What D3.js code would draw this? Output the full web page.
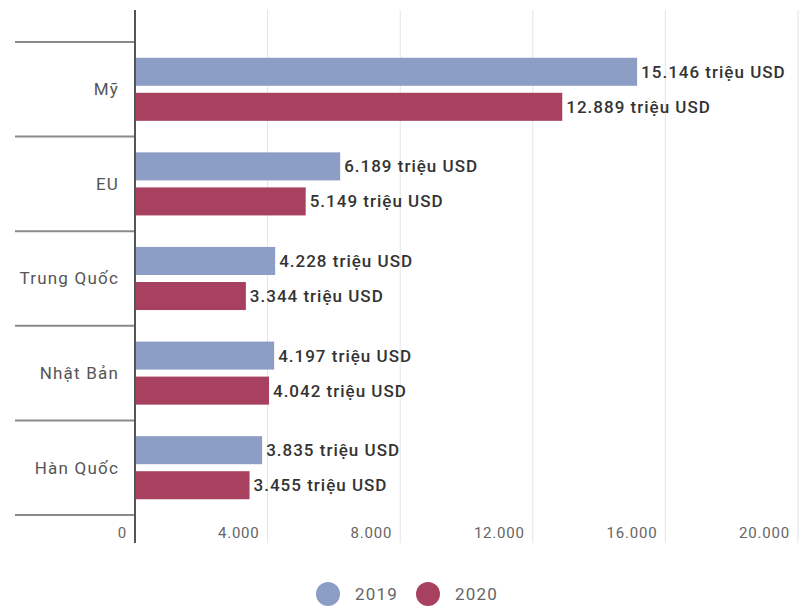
<!DOCTYPE html>
<html>
<head>
<meta charset="utf-8">
<script src="https://cdn.jsdelivr.net/npm/d3@7"></script>
<style>
  body { margin: 0; background: #fff; font-family: Roboto, "Noto Sans", sans-serif; }
</style>
</head>
<body>
<div id="chart"></div>
<script>
// Données
const categories = ["Mỹ", "EU", "Trung Quốc", "Nhật Bản", "Hàn Quốc"];
const series = ["2019", "2020"];
const values2019 = [15146, 6189, 4228, 4197, 3835];
const values2020 = [12889, 5149, 3344, 4042, 3455];
const tickValues = [0, 4000, 8000, 12000, 16000, 20000];
const colors = ["#8c9dc6", "#a7415f"];

const width = 801, height = 607;
const margin = { left: 135, right: 4, top: 42, bottom: 92 };

const vn = d3.formatLocale({ decimal: ",", thousands: ".", grouping: [3], currency: ["", ""] });
const fmt = vn.format(",d");

const svg = d3.select("#chart").append("svg")
    .attr("width", width)
    .attr("height", height);

const x = d3.scaleLinear()
    .domain([0, 20000])
    .range([margin.left, 798]);

const y = d3.scaleBand()
    .domain(categories)
    .range([margin.top, height - margin.bottom]);

const yInner = d3.scaleBand()
    .domain(series)
    .range([0, y.bandwidth()])
    .paddingInner(0.2)
    .paddingOuter(0.45);

// Grille verticale
svg.append("g")
    .selectAll("line")
    .data(tickValues.filter(d => d > 0))
    .join("line")
    .attr("x1", d => x(d)).attr("x2", d => x(d))
    .attr("y1", 10).attr("y2", 543)
    .attr("stroke", "#e4e4e4")
    .attr("stroke-width", 1);

// Séparateurs de catégories
const seps = y.domain().map(d => y(d)).concat([y.range()[1]]);
svg.append("g")
    .selectAll("line")
    .data(seps)
    .join("line")
    .attr("x1", 15).attr("x2", margin.left)
    .attr("y1", d => d).attr("y2", d => d)
    .attr("stroke", "#8a8a8a")
    .attr("stroke-width", 2);

// Barres
const data = [];
categories.forEach((c, i) => {
    data.push({ cat: c, serie: "2019", value: values2019[i], color: colors[0] });
    data.push({ cat: c, serie: "2020", value: values2020[i], color: colors[1] });
});

svg.append("g")
    .selectAll("rect")
    .data(data)
    .join("rect")
    .attr("x", x(0))
    .attr("y", d => y(d.cat) + yInner(d.serie))
    .attr("width", d => x(d.value) - x(0))
    .attr("height", yInner.bandwidth())
    .attr("fill", d => d.color);

// Étiquettes de valeur
svg.append("g")
    .selectAll("text")
    .data(data)
    .join("text")
    .attr("x", d => x(d.value) + 4)
    .attr("y", d => y(d.cat) + yInner(d.serie) + yInner.bandwidth() / 2)
    .attr("dy", "0.35em")
    .attr("font-size", 17)
    .attr("font-weight", 500)
    .attr("letter-spacing", 1)
    .attr("fill", "#333")
    .text(d => `${fmt(d.value)} triệu USD`);

// Libellés des catégories
svg.append("g")
    .selectAll("text")
    .data(categories)
    .join("text")
    .attr("x", 119)
    .attr("y", d => y(d) + y.bandwidth() / 2)
    .attr("dy", "0.35em")
    .attr("text-anchor", "end")
    .attr("font-size", 17)
    .attr("letter-spacing", 1.2)
    .attr("fill", "#555")
    .text(d => d);

// Axe
svg.append("line")
    .attr("x1", margin.left).attr("x2", margin.left)
    .attr("y1", 10).attr("y2", 543)
    .attr("stroke", "#555")
    .attr("stroke-width", 2);

// Graduations
svg.append("g")
    .selectAll("text")
    .data(tickValues)
    .join("text")
    .attr("x", d => x(d) - 8)
    .attr("y", 533)
    .attr("dy", "0.35em")
    .attr("text-anchor", "end")
    .attr("font-size", 15)
    .attr("letter-spacing", 0.8)
    .attr("fill", "#666")
    .text(d => fmt(d));

// Légende
const legend = svg.append("g").attr("transform", "translate(328,594)");
series.forEach((s, i) => {
    const g = legend.append("g").attr("transform", `translate(${i * 100},0)`);
    g.append("circle").attr("r", 12).attr("fill", colors[i]);
    g.append("text")
        .attr("x", 27)
        .attr("dy", "0.35em")
        .attr("font-size", 17)
        .attr("letter-spacing", 1.2)
        .attr("fill", "#666")
        .text(s);
});
</script>
</body>
</html>
